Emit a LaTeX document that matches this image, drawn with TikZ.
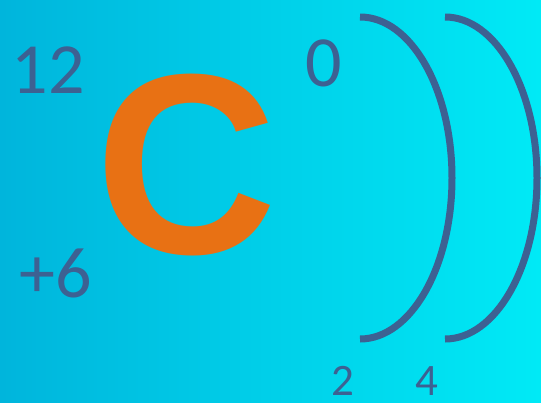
\documentclass[tikz,border=0pt]{standalone}
\usepackage{fontspec}
\setmainfont{Carlito}
\newfontfamily\cfont{Liberation Sans}
\definecolor{bgL}{RGB}{0,181,220}
\definecolor{bgR}{RGB}{0,234,246}
\definecolor{slate}{RGB}{61,97,146}
\definecolor{corange}{RGB}{232,113,20}
\tikzset{
  num/.style={inner sep=0pt, anchor=base, text=slate, font=\fontsize{72}{72}\selectfont},
  smallnum/.style={inner sep=0pt, anchor=base, text=slate, font=\fontsize{45}{45}\selectfont},
  bracket/.style={draw=slate, line width=7pt, line cap=butt}
}
\begin{document}
\begin{tikzpicture}[x=1pt,y=1pt]
\shade[left color=bgL, right color=bgR] (0,0) rectangle (541,-402);
\useasboundingbox (0,0) rectangle (541,-402);
\node[num] (n12) at (48,-93) {12};
\node[num] (n6) at (56,-297) {+6};
\node[num] (n0) at (324,-86) {0};
\node[smallnum] (n2) at (342.5,-395) {2};
\node[smallnum] (n4) at (426.5,-395) {4};
\node[inner sep=0pt, text=corange, font=\cfont\bfseries\fontsize{257}{257}\selectfont, xscale=0.98] (c) at (186.5,-165) {C};
\draw[bracket] (360,-17) arc[start angle=90, end angle=-90, x radius=92pt, y radius=161pt];
\draw[bracket] (445,-17) arc[start angle=90, end angle=-90, x radius=92pt, y radius=161pt];
\end{tikzpicture}
\end{document}
